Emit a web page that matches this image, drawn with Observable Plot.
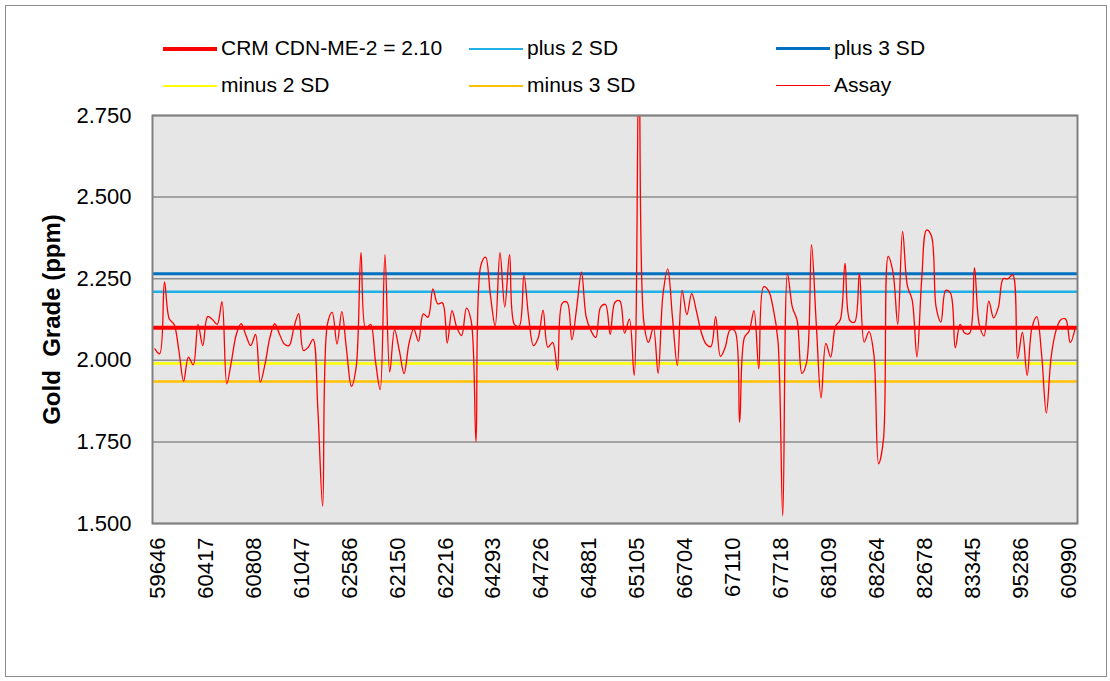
<!DOCTYPE html>
<html>
<head>
<meta charset="utf-8">
<script src="https://cdn.jsdelivr.net/npm/d3@7"></script>
<script src="https://cdn.jsdelivr.net/npm/@observablehq/plot@0.6"></script>
<style>
  html, body { margin: 0; padding: 0; background: #fff; }
  body { width: 1110px; height: 681px; position: relative; overflow: hidden;
         font-family: "Liberation Sans", Arial, sans-serif; }
  #border { position: absolute; left: 5px; top: 5px; width: 1100px; height: 670px;
            border: 1.5px solid #8c8c8c; }
  #legend { position: absolute; left: 163px; top: 29px; display: grid;
            grid-template-columns: 306px 307px 260px; grid-auto-rows: 37px;
            font-size: 21px; color: #000; }
  .item { display: flex; align-items: center; }
  .sw { width: 54px; margin-right: 4px; }
  #chart { position: absolute; left: 0; top: 95px; }
</style>
</head>
<body>
<div id="border"></div>
<div id="legend"></div>
<div id="chart"></div>
<script>
// Tick labels (every 10th sample id)
const sampleLabels = ["59646","60417","60808","61047","62586","62150","62216","64293","64726","64881",
                      "65105","66704","67110","67718","68109","68264","82678","83345","95286","60990"];
const labelEvery = 10;

// Assay values (ppm Au)
const assay = [
 2.035,2.02,2.24,2.127,2.11,2.03,1.936,2.01,1.986,2.11,
 2.045,2.134,2.125,2.11,2.18,1.928,2.0,2.08,2.112,2.076,
 2.045,2.079,1.933,1.99,2.07,2.112,2.08,2.05,2.045,2.1,
 2.143,2.03,2.04,2.064,1.85,1.553,2.111,2.147,2.05,2.149,
 2.03,1.92,1.98,2.33,2.096,2.11,2.0,1.91,2.324,1.964,
 2.093,2.03,1.959,2.05,2.096,2.058,2.142,2.132,2.219,2.173,
 2.176,2.053,2.152,2.1,2.076,2.16,2.12,1.75,2.29,2.316,
 2.2,2.105,2.33,2.163,2.324,2.11,2.104,2.26,2.13,2.045,
 2.07,2.154,2.04,2.055,1.97,2.175,2.178,2.063,2.16,2.27,
 2.132,2.09,2.07,2.163,2.171,2.079,2.178,2.182,2.083,2.126,
 1.954,2.95,2.12,2.055,2.1,1.96,2.2,2.28,2.13,1.984,
 2.214,2.14,2.205,2.15,2.086,2.05,2.042,2.134,2.012,2.04,
 2.093,2.09,1.81,2.07,2.09,2.152,1.974,2.225,2.214,2.16,
 2.06,1.523,2.265,2.163,2.122,1.96,1.995,2.354,2.11,1.885,
 2.052,2.01,2.104,2.124,2.297,2.122,2.117,2.266,2.056,2.088,
 2.02,1.683,1.755,2.318,2.27,2.11,2.395,2.229,2.185,2.01,
 2.25,2.399,2.382,2.163,2.117,2.214,2.206,2.038,2.11,2.083,
 2.083,2.283,2.11,2.075,2.181,2.13,2.163,2.25,2.25,2.262,
 2.005,2.086,1.954,2.10,2.134,2.02,1.838,2.01,2.09,2.124,
 2.127,2.054,2.097
];

// Reference lines
const levelNames  = ["CRM CDN-ME-2 = 2.10", "plus 2 SD", "plus 3 SD", "minus 2 SD", "minus 3 SD"];
const levelValues = [2.10, 2.21, 2.265, 1.99, 1.935];
const levelColors = ["#ff0000", "#1fb0e6", "#0070c0", "#ffff00", "#ffc000"];
const levelWidths = [4, 2.6, 3, 2.6, 2.6];

const yTicks = [1.5, 1.75, 2.0, 2.25, 2.5, 2.75];

// Legend (HTML, above the SVG)
const legendOrder = [
  {name: levelNames[0], color: levelColors[0], w: levelWidths[0]},
  {name: levelNames[1], color: levelColors[1], w: levelWidths[1]},
  {name: levelNames[2], color: levelColors[2], w: levelWidths[2]},
  {name: levelNames[3], color: levelColors[3], w: levelWidths[3]},
  {name: levelNames[4], color: levelColors[4], w: levelWidths[4]},
  {name: "Assay", color: "#ff0000", w: 1.3}
];
const legend = document.getElementById("legend");
for (const it of legendOrder) {
  const d = document.createElement("div");
  d.className = "item";
  const s = document.createElement("span");
  s.className = "sw";
  s.style.borderTop = `${it.w}px solid ${it.color}`;
  s.style.marginTop = "2px";
  const t = document.createElement("span");
  t.textContent = it.name;
  d.appendChild(s); d.appendChild(t);
  legend.appendChild(d);
}

const rows = assay.map((v, i) => ({i, v}));
const levels = levelValues.map((v, k) => ({v, k}));
const xTicks = d3.range(0, assay.length, labelEvery);

const chart = Plot.plot({
  width: 1110,
  height: 586,
  marginTop: 20,
  marginBottom: 158,
  marginLeft: 152,
  marginRight: 33,
  style: {fontSize: "22px", fontFamily: "'Liberation Sans', Arial, sans-serif", color: "#000", background: "transparent"},
  x: {domain: [-0.5, assay.length - 0.5]},
  y: {domain: [1.5, 2.75]},
  marks: [
    Plot.frame({fill: "#e6e6e6"}),
    Plot.ruleY(yTicks, {stroke: "#8c8c8c", strokeWidth: 1.5}),
    Plot.ruleY(levels, {y: "v", stroke: d => levelColors[d.k], strokeWidth: d => levelWidths[d.k]}),
    Plot.line(rows, {x: "i", y: "v", stroke: "#ff0000", strokeWidth: 1.3, curve: "catmull-rom", clip: true}),
    Plot.frame({stroke: "#808080", strokeWidth: 2}),
    Plot.axisY({ticks: yTicks, tickFormat: d3.format(".3f"), tickSize: 0, tickPadding: 21, label: null, fontSize: 22}),
    Plot.axisX({ticks: xTicks, tickFormat: d => sampleLabels[d / labelEvery], tickRotate: -90,
                tickSize: 0, tickPadding: 14, label: null, fontSize: 22, dx: 3}),
    Plot.text(["Gold\u00a0 Grade (ppm)"], {frameAnchor: "left", dx: -100, rotate: -90, textAnchor: "middle",
                fontWeight: "bold", fontSize: 24, fill: "#000"})
  ]
});
document.getElementById("chart").appendChild(chart);
</script>
</body>
</html>
